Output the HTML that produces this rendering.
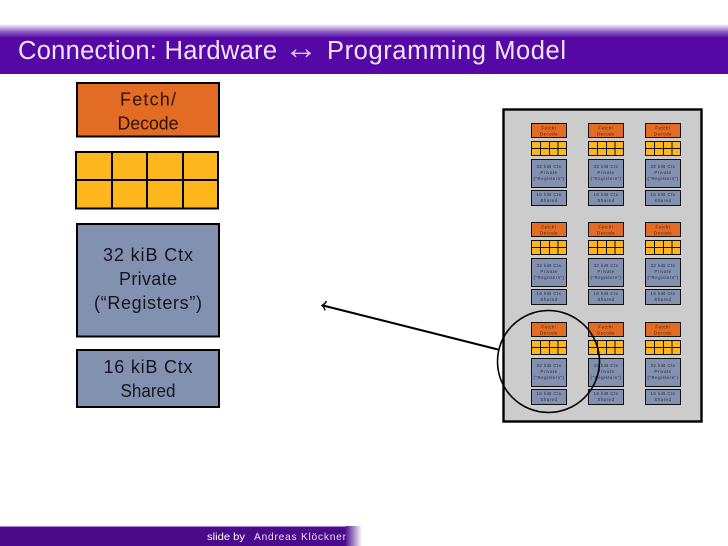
<!DOCTYPE html>
<html>
<head>
<meta charset="utf-8">
<style>
html,body{margin:0;padding:0;background:#fff;width:728px;height:546px;overflow:hidden}
svg{display:block}
text{font-family:"Liberation Sans",sans-serif}
.soft{filter:blur(.35px)}
</style>
</head>
<body>
<svg width="728" height="546" viewBox="0 0 728 546" xmlns="http://www.w3.org/2000/svg">
<defs>
<linearGradient id="hd" x1="0" y1="0" x2="0" y2="1">
<stop offset="0" stop-color="#fff"/>
<stop offset="0.55" stop-color="#8a5cc4"/>
<stop offset="1" stop-color="#5508a5"/>
</linearGradient>
<linearGradient id="ft" x1="0" y1="0" x2="1" y2="0">
<stop offset="0" stop-color="#4a0a8a"/>
<stop offset="1" stop-color="#fff"/>
</linearGradient>
<g id="unit">
<rect x="531.5" y="123.5" width="35" height="14" fill="#e36c24" stroke="#111" stroke-width="1"/>
<rect x="531.5" y="141.5" width="35" height="14" fill="#fdb61c" stroke="#111" stroke-width="1"/>
<path d="M540.5 141.5V155.5M549.5 141.5V155.5M558 141.5V155.5M531.5 148.5H566.5" stroke="#111" stroke-width="1" fill="none"/>
<rect x="531.5" y="159.5" width="35" height="28" fill="#8291b0" stroke="#111" stroke-width="1"/>
<rect x="531.5" y="190.5" width="35" height="15" fill="#8291b0" stroke="#111" stroke-width="1"/>
<g font-size="4.4" text-anchor="middle" fill="#2a2a3a" letter-spacing=".5">
<text x="549" y="129.5" fill="#4a1c08">Fetch/</text>
<text x="549" y="135.5" fill="#4a1c08">Decode</text>
<text x="549" y="168">32 kiB Ctx</text>
<text x="549" y="174">Private</text>
<text x="549" y="180">(“Registers”)</text>
<text x="549" y="196">16 kiB Ctx</text>
<text x="549" y="202">Shared</text>
</g>
</g>
</defs>

<!-- header -->
<rect x="0" y="24" width="728" height="14" fill="url(#hd)"/>
<rect x="0" y="37" width="728" height="37" fill="#5508a5"/>
<g fill="#efe6f8" font-size="25.5">
<text x="18" y="59" textLength="259" lengthAdjust="spacing">Connection: Hardware</text>
<text x="284" y="59" font-size="34" fill="#d6c4ea">↔</text>
<text x="327" y="59" textLength="239" lengthAdjust="spacing">Programming Model</text>
</g>

<!-- left detail -->
<rect x="77" y="83" width="142" height="53.5" fill="#e36c24" stroke="#000" stroke-width="2"/>
<g font-size="18" text-anchor="middle" fill="#2c1208">
<text x="148" y="105.5" textLength="56" lengthAdjust="spacing">Fetch/</text>
<text x="148" y="129.5" textLength="61" lengthAdjust="spacingAndGlyphs">Decode</text>
</g>
<rect x="76" y="152" width="142" height="56.5" fill="#fdb61c" stroke="#000" stroke-width="2"/>
<path d="M112 152V208.5M147 152V208.5M183 152V208.5M76 180H218" stroke="#000" stroke-width="2" fill="none"/>
<rect x="77" y="224" width="142" height="112.5" fill="#8291b0" stroke="#000" stroke-width="2"/>
<rect x="77" y="350" width="142" height="57" fill="#8291b0" stroke="#000" stroke-width="2"/>
<g font-size="18" text-anchor="middle" fill="#14161e">
<text x="148" y="261" textLength="90" lengthAdjust="spacing">32 kiB Ctx</text>
<text x="148" y="285" textLength="58" lengthAdjust="spacing">Private</text>
<text x="148" y="309" textLength="108" lengthAdjust="spacing">(“Registers”)</text>
<text x="148" y="373" textLength="89" lengthAdjust="spacing">16 kiB Ctx</text>
<text x="148" y="397" textLength="55" lengthAdjust="spacingAndGlyphs">Shared</text>
</g>

<!-- right chip -->
<rect x="503.5" y="109.5" width="198" height="312" fill="#cccccc" stroke="#000" stroke-width="2.4"/>
<g class="soft">
<use href="#unit"/>
<use href="#unit" x="57"/>
<use href="#unit" x="114"/>
<use href="#unit" y="99"/>
<use href="#unit" x="57" y="99"/>
<use href="#unit" x="114" y="99"/>
<use href="#unit" y="199"/>
<use href="#unit" x="57" y="199"/>
<use href="#unit" x="114" y="199"/>
</g>

<ellipse cx="548.5" cy="361.5" rx="51" ry="51" fill="none" stroke="#000" stroke-width="1.6"/>

<!-- arrow -->
<path d="M498 349.5L323 305.5" stroke="#000" stroke-width="2" fill="none"/>
<path d="M326.5 301Q325 304 322 305.5Q324.5 307.5 325 310.5" stroke="#000" stroke-width="1.4" fill="none"/>

<!-- footer -->
<rect x="0" y="526" width="345" height="20" fill="#4a0a8a"/>
<rect x="345" y="526" width="17" height="20" fill="url(#ft)"/>
<rect x="0" y="526" width="346" height="1" fill="#a98ad2"/>
<g font-size="10.2" fill="#e8def2">
<text x="207" y="540" textLength="38" lengthAdjust="spacingAndGlyphs" fill="#fff">slide by</text>
<text x="254" y="540" textLength="92" lengthAdjust="spacing">Andreas Klöckner</text>
</g>
</svg>
</body>
</html>
